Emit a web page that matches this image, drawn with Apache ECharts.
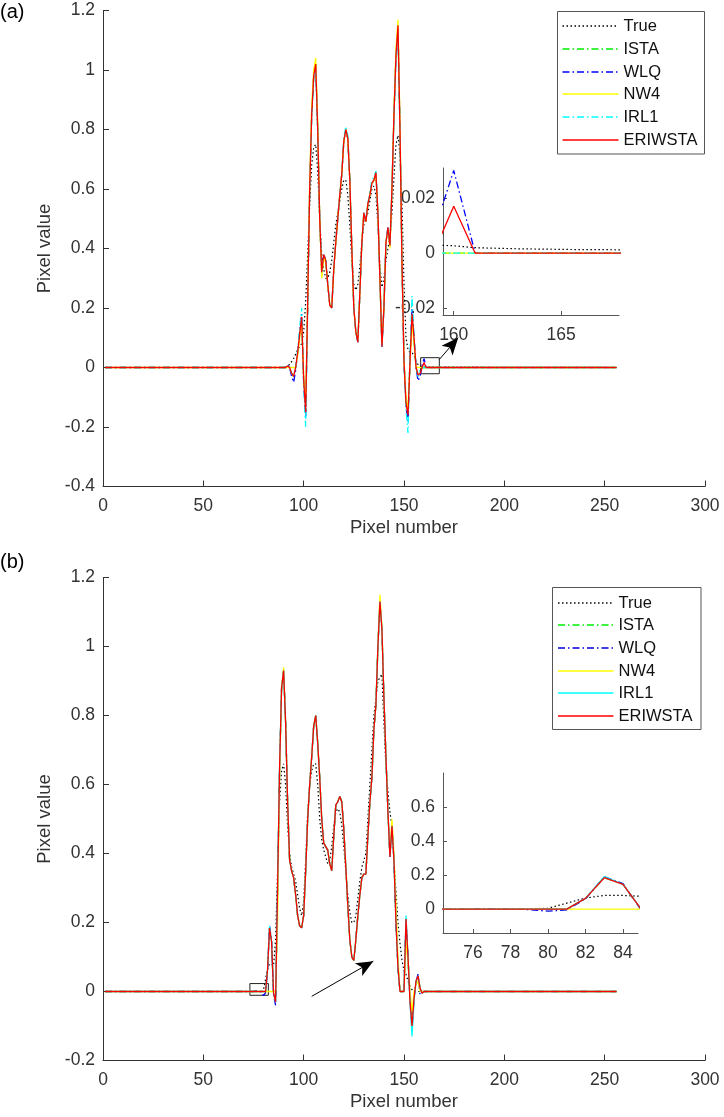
<!DOCTYPE html>
<html><head><meta charset="utf-8">
<script src="https://cdn.jsdelivr.net/npm/echarts@6/dist/echarts.min.js"></script>
<style>html,body{margin:0;padding:0;background:#fff}#c{width:724px;height:1117px}</style>
</head><body><div id="c"></div>
<script>
// ---------------- DATA ----------------
const seriesNames = ['True', 'ISTA', 'WLQ', 'NW4', 'IRL1', 'ERIWSTA'];
const xTickInterval = 50;
const xFirst = 1, xLast = 256;           // signal support (pixel numbers)

// Panel (a): values for pixel numbers 88..168 (zero elsewhere)
const aStart = 88;
const aTrue = [0,0,0,0.002,0.005,0.01,0.02,0.03,0.045,0.06,
  0.07,0.08,0.12,0.22,0.38,0.55,0.68,0.74,0.75,0.66,
  0.5,0.38,0.33,0.3,0.3,0.32,0.36,0.42,0.48,0.52,
  0.56,0.6,0.63,0.63,0.58,0.48,0.36,0.28,0.26,0.28,
  0.34,0.42,0.48,0.5,0.52,0.56,0.6,0.61,0.58,0.48,
  0.34,0.27,0.3,0.36,0.4,0.44,0.52,0.64,0.75,0.78,
  0.72,0.55,0.28,0.1,0.06,0.05,0.05,0.04,0.02,0.01,
  0.005,0.003,0.0027,0.002,0.0018,0.0016,0.0015,0.0014,0.0013,0.0013,
  0.0012];
const aISTA = [0,0,0,0,0.005,0,-0.02,-0.03,0,0.05,
  0.11,0.17,-0.04,-0.15,0.22,0.6,0.85,0.98,1.02,0.8,
  0.5,0.32,0.38,0.36,0.28,0.21,0.2,0.33,0.42,0.5,
  0.58,0.65,0.76,0.8,0.77,0.63,0.4,0.2,0.12,0.085,
  0.25,0.42,0.52,0.49,0.55,0.58,0.62,0.63,0.655,0.52,
  0.3,0.07,0.2,0.42,0.47,0.41,0.6,0.85,1.05,1.15,
  0.8,0.35,0.02,-0.12,-0.16,0.02,0.18,0.1,0,-0.025,
  -0.02,0,0,0,0,0,0,0,0,0,
  0];
const aWLQ = [0,0,0,0,0.008,0,-0.03,-0.05,-0.01,0.05,
  0.12,0.18,-0.05,-0.17,0.2,0.6,0.85,0.98,1.01,0.8,
  0.5,0.32,0.38,0.36,0.28,0.21,0.2,0.33,0.42,0.5,
  0.58,0.65,0.76,0.8,0.77,0.63,0.4,0.2,0.12,0.085,
  0.25,0.42,0.52,0.49,0.55,0.58,0.62,0.63,0.65,0.52,
  0.3,0.07,0.2,0.42,0.47,0.41,0.6,0.85,1.04,1.14,
  0.8,0.35,0.02,-0.13,-0.18,0.03,0.2,0.1,0,-0.045,
  -0.03,0.006,0.03,0,0,0,0,0,0,0,
  0];
const aNW4 = [0,0,0,0,0,0,0,0,0,0.04,
  0.1,0.15,-0.03,-0.12,0.22,0.62,0.88,1.0,1.04,0.82,
  0.5,0.3,0.37,0.35,0.28,0.21,0.2,0.33,0.42,0.5,
  0.58,0.65,0.76,0.8,0.77,0.63,0.4,0.2,0.12,0.09,
  0.25,0.42,0.52,0.49,0.55,0.58,0.62,0.63,0.65,0.52,
  0.3,0.08,0.2,0.42,0.46,0.4,0.6,0.86,1.07,1.17,
  0.82,0.35,0.03,-0.1,-0.14,0.02,0.15,0.08,0,0,
  0,0,0,0,0,0,0,0,0,0,
  0];
const aIRL1 = [0,0,0,0,0.005,0,-0.02,-0.03,0,0.06,
  0.13,0.2,-0.06,-0.2,0.2,0.6,0.85,0.97,1.0,0.8,
  0.5,0.32,0.38,0.36,0.28,0.21,0.2,0.33,0.42,0.5,
  0.58,0.65,0.77,0.81,0.78,0.63,0.4,0.2,0.12,0.085,
  0.25,0.42,0.52,0.5,0.55,0.59,0.63,0.64,0.66,0.52,
  0.3,0.07,0.2,0.42,0.47,0.41,0.6,0.85,1.04,1.13,
  0.8,0.35,0.02,-0.14,-0.22,0.05,0.24,0.1,0,-0.03,
  -0.01,0,0,0,0,0,0,0,0,0,
  0];
const aERIWSTA = [0,0,0,0,0.005,0,-0.02,-0.03,0,0.05,
  0.11,0.17,-0.04,-0.15,0.22,0.6,0.85,0.98,1.02,0.8,
  0.5,0.32,0.38,0.36,0.28,0.21,0.2,0.33,0.42,0.5,
  0.58,0.65,0.76,0.8,0.77,0.63,0.4,0.2,0.12,0.085,
  0.25,0.42,0.52,0.49,0.55,0.58,0.62,0.63,0.655,0.52,
  0.3,0.07,0.2,0.42,0.47,0.41,0.6,0.85,1.05,1.15,
  0.8,0.35,0.02,-0.12,-0.16,0.02,0.18,0.1,0,-0.025,
  -0.02,-0.001,0.017,0,0,0,0,0,0,0,
  0];

// Panel (b): values for pixel numbers 74..165 (zero elsewhere)
const bStart = 74;
const bTrue = [0,0,0,0,0,0,0.005,0.035,0.065,0.08,
  0.08,0.075,0.15,0.35,0.55,0.64,0.66,0.6,0.48,0.4,
  0.36,0.34,0.32,0.28,0.24,0.22,0.26,0.38,0.52,0.6,
  0.64,0.66,0.66,0.6,0.5,0.44,0.41,0.39,0.37,0.38,
  0.42,0.48,0.52,0.53,0.52,0.48,0.42,0.35,0.28,0.23,
  0.2,0.2,0.22,0.27,0.32,0.36,0.38,0.4,0.5,0.6,
  0.7,0.8,0.85,0.9,0.91,0.92,0.78,0.65,0.58,0.52,
  0.48,0.38,0.29,0.2,0.14,0.09,0.06,0.05,0.03,0.015,
  0.005,0,0,0,0,0,0,0,0,0,
  0,0];
const bISTA = [0,0,0,0,0,0,0,0,0.063,0.184,
  0.145,-0.005,-0.03,0.3,0.65,0.88,0.93,0.78,0.55,0.38,
  0.35,0.33,0.28,0.22,0.19,0.185,0.22,0.35,0.5,0.6,
  0.68,0.77,0.8,0.72,0.62,0.5,0.43,0.42,0.41,0.37,
  0.35,0.45,0.54,0.55,0.565,0.55,0.47,0.36,0.25,0.15,
  0.1,0.09,0.15,0.22,0.28,0.33,0.34,0.34,0.45,0.55,
  0.62,0.76,0.83,1.0,1.13,1.05,0.85,0.68,0.52,0.39,
  0.48,0.38,0.2,0.07,0,0,0,0.21,0.1,-0.03,
  -0.1,-0.02,0.03,0.045,0.01,-0.005,0,0,0,0,
  0,0];
const bWLQ = [0,0,0.002,0.003,0.001,-0.003,-0.012,-0.004,0.06,0.19,
  0.15,-0.01,-0.04,0.3,0.65,0.88,0.93,0.78,0.55,0.38,
  0.35,0.33,0.28,0.22,0.19,0.185,0.22,0.35,0.5,0.6,
  0.68,0.77,0.8,0.72,0.62,0.5,0.43,0.42,0.41,0.37,
  0.35,0.45,0.54,0.55,0.565,0.55,0.47,0.36,0.25,0.15,
  0.1,0.09,0.15,0.22,0.28,0.33,0.34,0.34,0.45,0.55,
  0.62,0.76,0.83,1.0,1.13,1.05,0.85,0.68,0.52,0.39,
  0.48,0.38,0.2,0.07,0,0,0,0.21,0.1,-0.03,
  -0.11,-0.02,0.03,0.05,-0.01,0,0,0,0,0,
  0,0];
const bNW4 = [0,0,0,0,0,0,0,0,0,0,
  0,0,0,0.2,0.62,0.88,0.94,0.78,0.55,0.38,
  0.35,0.33,0.28,0.22,0.19,0.185,0.22,0.35,0.5,0.6,
  0.68,0.77,0.8,0.72,0.62,0.5,0.43,0.42,0.41,0.37,
  0.35,0.45,0.54,0.55,0.565,0.55,0.47,0.36,0.25,0.15,
  0.1,0.09,0.15,0.22,0.28,0.33,0.34,0.34,0.45,0.55,
  0.62,0.76,0.83,1.0,1.15,1.06,0.85,0.68,0.52,0.4,
  0.5,0.4,0.25,0.1,0,0,0,0.15,0.08,0,
  -0.06,0,0.02,0.03,0,0,0,0,0,0,
  0,0];
const bIRL1 = [0,0,0,0,0,0,0,0,0.063,0.19,
  0.145,-0.005,-0.03,0.3,0.65,0.88,0.93,0.78,0.55,0.38,
  0.35,0.33,0.28,0.22,0.19,0.185,0.22,0.35,0.5,0.6,
  0.68,0.77,0.8,0.72,0.62,0.5,0.43,0.42,0.41,0.37,
  0.35,0.45,0.54,0.55,0.565,0.55,0.47,0.36,0.25,0.15,
  0.1,0.09,0.15,0.22,0.28,0.33,0.34,0.34,0.45,0.55,
  0.62,0.76,0.83,1.0,1.13,1.05,0.85,0.68,0.52,0.39,
  0.48,0.38,0.2,0.07,0,0,0,0.22,0.1,-0.03,
  -0.13,-0.03,0.03,0.045,0.01,-0.005,0,0,0,0,
  0,0];
const bERIWSTA = [0,0,0,0,0,0,0,0,0.063,0.184,
  0.145,-0.005,-0.03,0.3,0.65,0.88,0.93,0.78,0.55,0.38,
  0.35,0.33,0.28,0.22,0.19,0.185,0.22,0.35,0.5,0.6,
  0.68,0.77,0.8,0.72,0.62,0.5,0.43,0.42,0.41,0.37,
  0.35,0.45,0.54,0.55,0.565,0.55,0.47,0.36,0.25,0.15,
  0.1,0.09,0.15,0.22,0.28,0.33,0.34,0.34,0.45,0.55,
  0.62,0.76,0.83,1.0,1.13,1.05,0.85,0.68,0.52,0.39,
  0.48,0.38,0.2,0.07,0,0,0,0.21,0.1,-0.03,
  -0.1,-0.02,0.03,0.045,0.01,-0.005,0,0,0,0,
  0,0];

// Zoom windows, zoom boxes and arrows (data coordinates)
const aInsetX = [159.5, 167.7], aInsetY = [-0.0224, 0.0309];
const aInsetXTicks = [160, 165], aInsetYTicks = [-0.02, 0, 0.02];
const bInsetX = [74.4, 84.8], bInsetY = [-0.14, 0.798];
const bInsetXTicks = [76, 78, 80, 82, 84], bInsetYTicks = [0, 0.2, 0.4, 0.6];
const aBox = [[158.3, 0.033], [167.6, -0.021]];
const aArrow = [[167.6, 0.027], [177.0, 0.10]];
const bBox = [[73.2, 0.023], [82.4, -0.011]];
const bArrow = [[104.0, -0.014], [134.7, 0.088]];

// ---------------- CHART ----------------
const FONT = 'Liberation Sans, Arial, Helvetica, sans-serif';
const AX = '#333';
const DASHDOT = [7, 3, 1.5, 3];
const DOT = [1.5, 2.5];
const styleA = {
  True: { color: '#000000', type: DOT },
  ISTA: { color: '#00ee00', type: DASHDOT },
  WLQ: { color: '#0000ff', type: DASHDOT },
  NW4: { color: '#ffff00', type: 'solid' },
  IRL1: { color: '#00ffff', type: DASHDOT },
  ERIWSTA: { color: '#ff0000', type: 'solid' }
};
const styleB = {
  True: { color: '#000000', type: DOT },
  ISTA: { color: '#00ee00', type: DASHDOT },
  WLQ: { color: '#0000dd', type: DASHDOT },
  NW4: { color: '#ffff00', type: 'solid' },
  IRL1: { color: '#00ffff', type: 'solid' },
  ERIWSTA: { color: '#ff0000', type: 'solid' }
};
const dataA = { True: aTrue, ISTA: aISTA, WLQ: aWLQ, NW4: aNW4, IRL1: aIRL1, ERIWSTA: aERIWSTA };
const dataB = { True: bTrue, ISTA: bISTA, WLQ: bWLQ, NW4: bNW4, IRL1: bIRL1, ERIWSTA: bERIWSTA };

function pairs(x0, arr) {
  const out = [[xFirst, 0]];
  arr.forEach((v, i) => out.push([x0 + i, v]));
  out.push([xLast, 0]);
  return out;
}

const TICK_FS = 17.5, NAME_FS = 18.5;
function mainAxes(gi, yMin, yMax) {
  return {
    x: {
      gridIndex: gi, type: 'value', min: 0, max: 300, interval: xTickInterval,
      axisLine: { show: true, onZero: false, lineStyle: { color: AX, width: 1 } },
      axisTick: { show: true, inside: true, length: 6, lineStyle: { color: AX } },
      axisLabel: { color: AX, fontSize: TICK_FS, margin: 11, fontFamily: FONT },
      splitLine: { show: false },
      name: 'Pixel number', nameLocation: 'middle', nameGap: 32,
      nameTextStyle: { fontSize: NAME_FS, color: AX, fontFamily: FONT }
    },
    y: {
      gridIndex: gi, type: 'value', min: yMin, max: yMax, interval: 0.2,
      axisLine: { show: true, onZero: false, lineStyle: { color: AX, width: 1 } },
      axisTick: { show: true, inside: true, length: 6, lineStyle: { color: AX } },
      axisLabel: { color: AX, fontSize: TICK_FS, margin: 8, fontFamily: FONT },
      splitLine: { show: false },
      name: 'Pixel value', nameLocation: 'middle', nameGap: 47, nameRotate: 90,
      nameTextStyle: { fontSize: NAME_FS, color: AX, fontFamily: FONT }
    }
  };
}
function insetAxes(gi, xr, yr, xt, yt) {
  return {
    x: {
      gridIndex: gi, type: 'value', min: xr[0], max: xr[1],
      axisLine: { show: true, onZero: false, lineStyle: { color: '#555', width: 1 } },
      axisTick: { show: true, inside: true, length: 4, customValues: xt, lineStyle: { color: '#555' } },
      axisLabel: { color: AX, fontSize: TICK_FS, margin: 11, fontFamily: FONT, customValues: xt },
      splitLine: { show: false }
    },
    y: {
      gridIndex: gi, type: 'value', min: yr[0], max: yr[1],
      axisLine: { show: true, onZero: false, lineStyle: { color: '#555', width: 1 } },
      axisTick: { show: true, inside: true, length: 4, customValues: yt, lineStyle: { color: '#555' } },
      axisLabel: { color: AX, fontSize: TICK_FS, margin: 8, fontFamily: FONT, customValues: yt },
      splitLine: { show: false }
    }
  };
}

const ax0 = mainAxes(0, -0.4, 1.2);
const ax1 = insetAxes(1, aInsetX, aInsetY, aInsetXTicks, aInsetYTicks);
const ax2 = mainAxes(2, -0.2, 1.2);
const ax3 = insetAxes(3, bInsetX, bInsetY, bInsetXTicks, bInsetYTicks);

const series = [];
function addSeries(gi, x0, data, style) {
  seriesNames.forEach(name => {
    series.push({
      type: 'line', name: name, xAxisIndex: gi, yAxisIndex: gi,
      data: pairs(x0, data[name]), symbol: 'none', showSymbol: false,
      clip: true, silent: true, animation: false,
      lineStyle: { color: style[name].color, width: name === 'True' ? 1.2 : 1.3, type: style[name].type },
      itemStyle: { color: style[name].color }
    });
  });
}
function annotSeries(gi, id, box, arrow) {
  return {
    type: 'line', id: id, name: id, xAxisIndex: gi, yAxisIndex: gi, data: [],
    symbol: 'none', silent: true, animation: false, z: 5,
    markArea: {
      silent: true, label: { show: false },
      itemStyle: { color: 'rgba(0,0,0,0)', borderColor: '#222', borderWidth: 1 },
      data: [[{ coord: box[0] }, { coord: box[1] }]]
    },
    markLine: {
      silent: true, symbol: ['none', 'arrow'], symbolSize: [11, 17],
      label: { show: false }, animation: false,
      lineStyle: { color: '#000', width: 1, type: 'solid' },
      itemStyle: { color: '#000' },
      emphasis: { disabled: true },
      data: [[{ coord: arrow[0] }, { coord: arrow[1] }]]
    }
  };
}
addSeries(0, aStart, dataA, styleA);
addSeries(2, bStart, dataB, styleB);
addSeries(1, aStart, dataA, styleA);
addSeries(3, bStart, dataB, styleB);
series.push(annotSeries(0, 'zoomA', aBox, aArrow));
series.push(annotSeries(2, 'zoomB', bBox, bArrow));

// Legend boxes (key: line sample + label for each series)
function legendGraphic(box, lineX, lineW, row0, rowStep, style) {
  const children = [{
    type: 'rect', shape: { x: box[0], y: box[1], width: box[2], height: box[3] },
    style: { fill: '#fff', stroke: '#555', lineWidth: 1 }, z: 0
  }];
  seriesNames.forEach((n, i) => {
    const cy = Math.round(row0 + i * rowStep);
    const dash = Array.isArray(style[n].type) ? style[n].type : null;
    children.push({
      type: 'line', shape: { x1: lineX, y1: cy, x2: lineX + lineW, y2: cy },
      style: { stroke: style[n].color, lineWidth: 1.6, lineDash: dash }, z: 1
    });
    children.push({
      type: 'text', x: lineX + lineW + 5, y: cy, z: 1,
      style: { text: n, fontSize: 16.5, fontFamily: FONT, fill: '#111', verticalAlign: 'middle', align: 'left' }
    });
  });
  return { type: 'group', z: 100, children: children };
}

const option = {
  animation: false,
  backgroundColor: '#fff',
  textStyle: { fontFamily: FONT },
  grid: [
    { left: 103, top: 10.5, width: 602, height: 476, outerBoundsMode: 'none' },
    { left: 443, top: 168, width: 176, height: 147, outerBoundsMode: 'none' },
    { left: 103, top: 577.5, width: 602, height: 483, outerBoundsMode: 'none' },
    { left: 443, top: 773, width: 195, height: 160, outerBoundsMode: 'none' }
  ],
  xAxis: [ax0.x, ax1.x, ax2.x, ax3.x],
  yAxis: [ax0.y, ax1.y, ax2.y, ax3.y],
  graphic: [
    { type: 'text', left: 0, top: 2, style: { text: '(a)', fontSize: 20, fill: '#000', fontFamily: FONT } },
    { type: 'text', left: 0, top: 552, style: { text: '(b)', fontSize: 20, fill: '#000', fontFamily: FONT } },
    legendGraphic([557.5, 11.5, 147, 142.5], 562.5, 56, 26, 22.8, styleA),
    legendGraphic([552.5, 587.5, 148.5, 142], 558, 55.5, 602.7, 22.6, styleB)
  ],
  series: series
};

const chart = echarts.init(document.getElementById('c'), null, { renderer: 'canvas' });
chart.setOption(option);
</script>
</body></html>
